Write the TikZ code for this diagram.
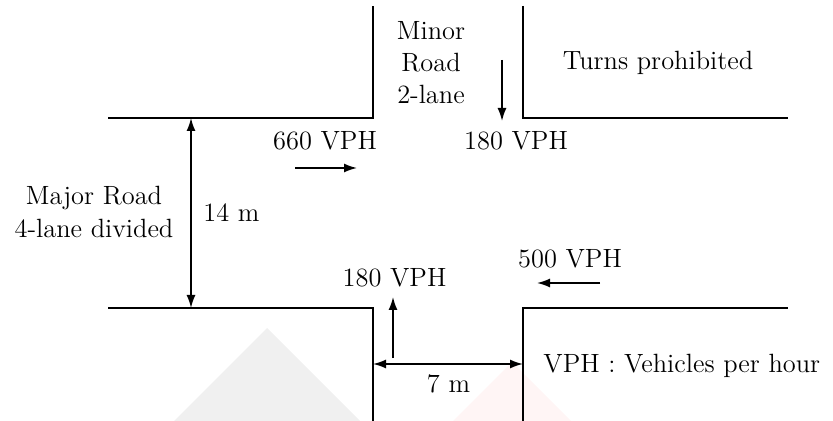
\documentclass[tikz,border=0pt]{standalone}
\usetikzlibrary{arrows.meta}
\begin{document}
\begin{tikzpicture}[x=0.5pt,y=-0.5pt,
  road/.style={line width=0.9pt,line join=miter},
  flow/.style={line width=0.8pt,-{Latex[length=6.5pt,width=4.5pt]}},
  dim/.style={line width=0.8pt,{Latex[length=6.5pt,width=4.5pt]}-{Latex[length=6.5pt,width=4.5pt]}},
  lbl/.style={inner sep=0pt,anchor=base,font=\fontsize{13.2pt}{16.5pt}\selectfont}]
\useasboundingbox (0,0) rectangle (833,421);
% faint watermark triangles
\fill[black!6] (267,328) -- (360,421) -- (174,421) -- cycle;
\fill[red!4] (512,362) -- (571,421) -- (453,421) -- cycle;
% road edges
\coordinate (tlA) at (108,118); \coordinate (tlC) at (373,118); \coordinate (tlB) at (373,6);
\coordinate (trA) at (523,6); \coordinate (trC) at (523,118); \coordinate (trB) at (788,118);
\coordinate (blA) at (108,308); \coordinate (blC) at (373,308); \coordinate (blB) at (373,421);
\coordinate (brA) at (523,421); \coordinate (brC) at (523,308); \coordinate (brB) at (788,308);
\draw[road] (tlA) -- (tlC) -- (tlB);
\draw[road] (trA) -- (trC) -- (trB);
\draw[road] (blA) -- (blC) -- (blB);
\draw[road] (brA) -- (brC) -- (brB);
% 14 m dimension
\coordinate (d14a) at (191,118); \coordinate (d14b) at (191,308);
\draw[dim] (d14a) -- (d14b);
\node[lbl] (l14) at (231.5,222) {14 m};
\node[lbl] (major1) at (94,205) {Major Road};
\node[lbl] (major2) at (94,238) {4-lane divided};
% 7 m dimension
\coordinate (d7a) at (373,364); \coordinate (d7b) at (523,364);
\draw[dim] (d7a) -- (d7b);
\node[lbl] (l7) at (448.5,392) {7 m};
% flows
\node[lbl] (f660) at (325,150) {660 VPH};
\coordinate (a660s) at (295,168); \coordinate (a660e) at (357,168);
\draw[flow] (a660s) -- (a660e);
\node[lbl] (minor1) at (431,40) {Minor};
\node[lbl] (minor2) at (431,72) {Road};
\node[lbl] (minor3) at (431,104) {2-lane};
\coordinate (a180ds) at (502,60); \coordinate (a180de) at (502,121);
\draw[flow] (a180ds) -- (a180de);
\node[lbl] (f180d) at (516,150) {180 VPH};
\node[lbl] (turns) at (658,70) {Turns prohibited};
\node[lbl] (f500) at (570,268) {500 VPH};
\coordinate (a500s) at (600,283); \coordinate (a500e) at (537,283);
\draw[flow] (a500s) -- (a500e);
\node[lbl] (f180u) at (394.5,287) {180 VPH};
\coordinate (a180us) at (393,358); \coordinate (a180ue) at (393,297);
\draw[flow] (a180us) -- (a180ue);
\node[lbl,anchor=base west] (legend) at (543,372) {VPH : Vehicles per hour};
\end{tikzpicture}
\end{document}
